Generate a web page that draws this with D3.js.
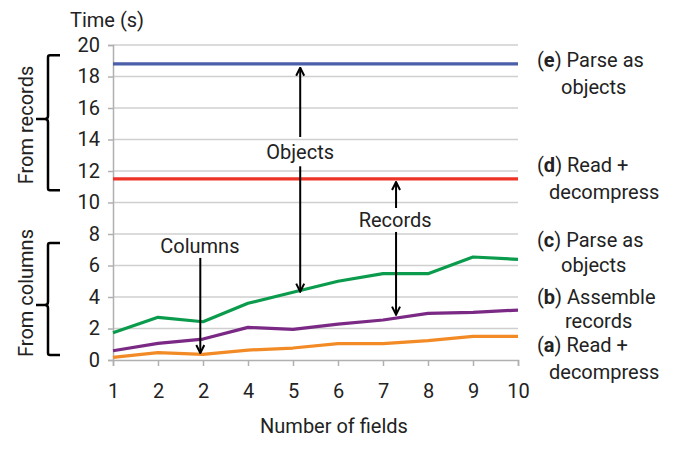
<!DOCTYPE html>
<html><head><meta charset="utf-8">
<script src="https://cdn.jsdelivr.net/npm/d3@7"></script>
<style>
html,body{margin:0;padding:0;background:#fff;}
text{font-family:Roboto,"Noto Sans",sans-serif;fill:#222;}
</style></head>
<body>
<svg id="c" width="685" height="449"></svg>
<script>
// ---- data ----
const xLabels = ["1","2","2","4","5","6","7","8","9","10"];
const yTicks = [0,2,4,6,8,10,12,14,16,18,20];
const seriesE = [18.8,18.8,18.8,18.8,18.8,18.8,18.8,18.8,18.8,18.8]; // (e) records: parse as objects
const seriesD = [11.5,11.5,11.5,11.5,11.5,11.5,11.5,11.5,11.5,11.5]; // (d) records: read + decompress
const seriesC = [1.73,2.71,2.43,3.6,4.3,5.0,5.48,5.48,6.54,6.39];      // (c) columns: parse as objects
const seriesB = [0.59,1.06,1.33,2.07,1.94,2.28,2.54,2.96,3.03,3.17];   // (b) columns: assemble records
const seriesA = [0.17,0.47,0.36,0.63,0.76,1.04,1.04,1.23,1.5,1.5];     // (a) columns: read + decompress
const seriesColors = ["#4a5ea9","#ee3427","#0b9b4c","#7a2a84","#f28a26"];

const FS = 20;
const svg = d3.select("#c");
const x = d3.scaleLinear().domain([0, xLabels.length-1]).range([113, 518]);
const y = d3.scaleLinear().domain([0, 20]).range([360, 45]);

// gridlines
svg.append("g").selectAll("line").data(yTicks.filter(d=>d>0)).join("line")
  .attr("x1", x(0)).attr("x2", x(9)).attr("y1", d=>y(d)).attr("y2", d=>y(d))
  .attr("stroke", "#cfcfcf").attr("stroke-width", 1.5);

// y axis
const yAxis = svg.append("g").attr("transform", `translate(${x(0)},0)`)
  .call(d3.axisLeft(y).tickValues(yTicks).tickSize(5).tickPadding(8));
yAxis.select(".domain").attr("stroke", "#b0b0b0").attr("stroke-width", 1.5);
yAxis.selectAll(".tick line").attr("stroke", "#b0b0b0").attr("stroke-width", 1.5);
yAxis.selectAll(".tick text").attr("font-size", FS).attr("font-family", "Roboto").attr("fill", "#222");

// x axis
const xAxis = svg.append("g").attr("transform", `translate(0,${y(0)})`)
  .call(d3.axisBottom(x).tickValues(d3.range(xLabels.length)).tickFormat(i=>xLabels[i]).tickSize(6).tickPadding(18));
xAxis.select(".domain").attr("stroke", "#b0b0b0").attr("stroke-width", 1.5);
xAxis.selectAll(".tick line").attr("stroke", "#b0b0b0").attr("stroke-width", 1.5);
xAxis.selectAll(".tick text").attr("font-size", FS).attr("font-family", "Roboto").attr("fill", "#222");

// lines
const line = d3.line().x((d,i)=>x(i)).y(d=>y(d));
[seriesE, seriesD, seriesC, seriesB, seriesA].forEach((s, k) => {
  svg.append("path").datum(s).attr("d", line).attr("fill", "none")
    .attr("stroke", seriesColors[k]).attr("stroke-width", 3.2).attr("stroke-linejoin", "round");
});

// arrows
const defs = svg.append("defs");
defs.append("marker").attr("id", "ah").attr("viewBox", "0 0 10 10").attr("refX", 9).attr("refY", 5)
  .attr("markerWidth", 10).attr("markerHeight", 10).attr("markerUnits", "userSpaceOnUse").attr("orient", "auto")
  .append("path").attr("d", "M1,1 L9,5 L1,9").attr("fill", "none").attr("stroke", "#000").attr("stroke-width", 2);

const arrows = [
  {xi: 1.94, from: 6.48, to: 0.44},
  {xi: 4.16, from: 14.16, to: 18.56},
  {xi: 4.16, from: 12.3, to: 4.34},
  {xi: 6.29, from: 9.65, to: 11.3},
  {xi: 6.29, from: 8.13, to: 2.88}
];
svg.append("g").selectAll("line").data(arrows).join("line")
  .attr("x1", d=>x(d.xi)).attr("x2", d=>x(d.xi)).attr("y1", d=>y(d.from)).attr("y2", d=>y(d.to))
  .attr("stroke", "#000").attr("stroke-width", 2).attr("marker-end", "url(#ah)");

const callouts = [
  {t:"Columns", xi:1.93, v:6.48, dy:-5},
  {t:"Objects", xi:4.16, v:13.23, dy:7},
  {t:"Records", xi:6.27, v:8.89, dy:7}
];
svg.append("g").selectAll("text").data(callouts).join("text")
  .attr("x", d=>x(d.xi)).attr("y", d=>y(d.v)+d.dy).attr("text-anchor", "middle")
  .attr("font-size", FS).text(d=>d.t);

// axis titles
svg.append("text").attr("x", 70).attr("y", 27).attr("font-size", FS).text("Time (s)");
svg.append("text").attr("x", 334).attr("y", 433).attr("text-anchor", "middle").attr("font-size", FS).text("Number of fields");

// right labels
const rightLabels = [
  {b:"e", l1:"Parse as", l2:"objects", y1:67, y2:94, x2:561},
  {b:"d", l1:"Read +", l2:"decompress", y1:172, y2:199, x2:549},
  {b:"c", l1:"Parse as", l2:"objects", y1:247, y2:272, x2:561},
  {b:"b", l1:"Assemble", l2:"records", y1:304, y2:328, x2:565},
  {b:"a", l1:"Read +", l2:"decompress", y1:352, y2:379, x2:549}
];
rightLabels.forEach(r => {
  const t = svg.append("text").attr("x", 537).attr("y", r.y1).attr("font-size", FS);
  t.append("tspan").text("(");
  t.append("tspan").attr("font-weight", "bold").text(r.b);
  t.append("tspan").text(") " + r.l1);
  svg.append("text").attr("x", r.x2).attr("y", r.y2).attr("font-size", FS).text(r.l2);
});

// brackets
function bracket(top, bot, mid) {
  const xv = 48;
  return `M60,${top} L${xv+2},${top} Q${xv},${top} ${xv},${top+2} L${xv},${mid-3} Q${xv},${mid} ${xv-3},${mid} L36,${mid} L${xv-3},${mid} Q${xv},${mid} ${xv},${mid+3} L${xv},${bot-2} Q${xv},${bot} ${xv+2},${bot} L60,${bot}`;
}
svg.append("path").attr("d", bracket(y(19.35), y(10.78), y(15.3))).attr("fill","none").attr("stroke","#000").attr("stroke-width",2.5);
svg.append("path").attr("d", bracket(y(7.43), y(0.32), y(3.5))).attr("fill","none").attr("stroke","#000").attr("stroke-width",2.5);

svg.append("text").attr("transform", "translate(33,125) rotate(-90)").attr("text-anchor","middle").attr("font-size",FS).text("From records");
svg.append("text").attr("transform", "translate(33,293) rotate(-90)").attr("text-anchor","middle").attr("font-size",FS).text("From columns");
</script>
</body></html>
